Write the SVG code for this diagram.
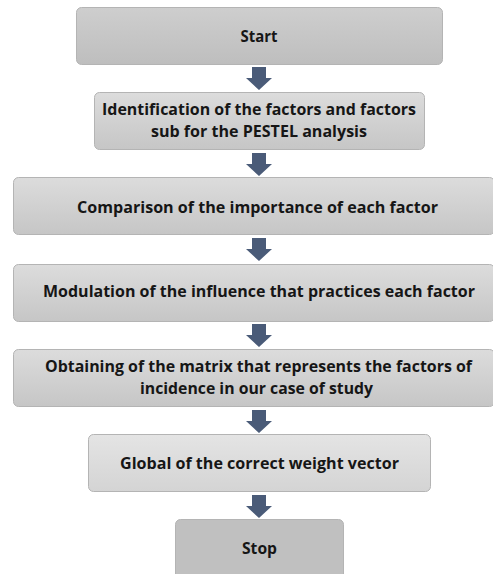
<svg xmlns="http://www.w3.org/2000/svg" width="493" height="574" viewBox="0 0 493 574">
<defs>
<linearGradient id="g1" x1="0" y1="0" x2="0" y2="1"><stop offset="0" stop-color="#cecece"/><stop offset="1" stop-color="#bebebe"/></linearGradient>
<linearGradient id="g2" x1="0" y1="0" x2="0" y2="1"><stop offset="0" stop-color="#dcdcdc"/><stop offset="1" stop-color="#c6c6c6"/></linearGradient>
<linearGradient id="g3" x1="0" y1="0" x2="0" y2="1"><stop offset="0" stop-color="#e4e4e4"/><stop offset="1" stop-color="#d4d4d4"/></linearGradient>
<polygon id="arr" points="-7,0 7,0 7,11 13,11 0,23 -13,11 -7,11" fill="#4a5b78"/>
</defs>
<style>
.box{stroke:#b4b4b4;stroke-width:1}
.t{font-family:"Open Sans","Liberation Sans",sans-serif;font-weight:bold;font-size:16.5px;fill:#161616;text-anchor:middle}
</style>
<rect width="493" height="574" fill="#ffffff"/>
<g id="connectors">
<use href="#arr" x="259" y="67"/>
<use href="#arr" x="259" y="153"/>
<use href="#arr" x="259" y="238"/>
<use href="#arr" x="259" y="324"/>
<use href="#arr" x="259" y="410"/>
<use href="#arr" x="259" y="495"/>
</g>
<g id="start">
<rect class="box" x="76.5" y="7.5" width="366" height="57" rx="5" fill="url(#g1)"/>
<text class="t" x="259" y="42" textLength="37" lengthAdjust="spacingAndGlyphs">Start</text>
</g>
<g id="identification">
<rect class="box" x="94.5" y="92.5" width="330" height="57" rx="5" fill="url(#g2)"/>
<text class="t" x="259" y="115" textLength="314" lengthAdjust="spacingAndGlyphs">Identification of the factors and factors</text>
<text class="t" x="259" y="137" textLength="216" lengthAdjust="spacingAndGlyphs">sub for the PESTEL analysis</text>
</g>
<g id="comparison">
<rect class="box" x="13.5" y="177.5" width="481" height="57" rx="5" fill="url(#g2)"/>
<text class="t" x="257.5" y="213" textLength="361" lengthAdjust="spacingAndGlyphs">Comparison of the importance of each factor</text>
</g>
<g id="modulation">
<rect class="box" x="13.5" y="264.5" width="481" height="57" rx="5" fill="url(#g2)"/>
<text class="t" x="259" y="297" textLength="432" lengthAdjust="spacingAndGlyphs">Modulation of the influence that practices each factor</text>
</g>
<g id="obtaining">
<rect class="box" x="13.5" y="349.5" width="481" height="57" rx="5" fill="url(#g2)"/>
<text class="t" x="258.5" y="372" textLength="427" lengthAdjust="spacingAndGlyphs">Obtaining of the matrix that represents the factors of</text>
<text class="t" x="256.5" y="394" textLength="233" lengthAdjust="spacingAndGlyphs">incidence in our case of study</text>
</g>
<g id="global">
<rect class="box" x="88.5" y="434.5" width="342" height="57" rx="5" fill="url(#g3)"/>
<text class="t" x="259.5" y="469" textLength="279" lengthAdjust="spacingAndGlyphs">Global of the correct weight vector</text>
</g>
<g id="stop">
<rect class="box" x="175.5" y="519.5" width="168" height="70" rx="5" fill="#c0c0c0"/>
<text class="t" x="259.5" y="554" textLength="35" lengthAdjust="spacingAndGlyphs">Stop</text>
</g>
</svg>
